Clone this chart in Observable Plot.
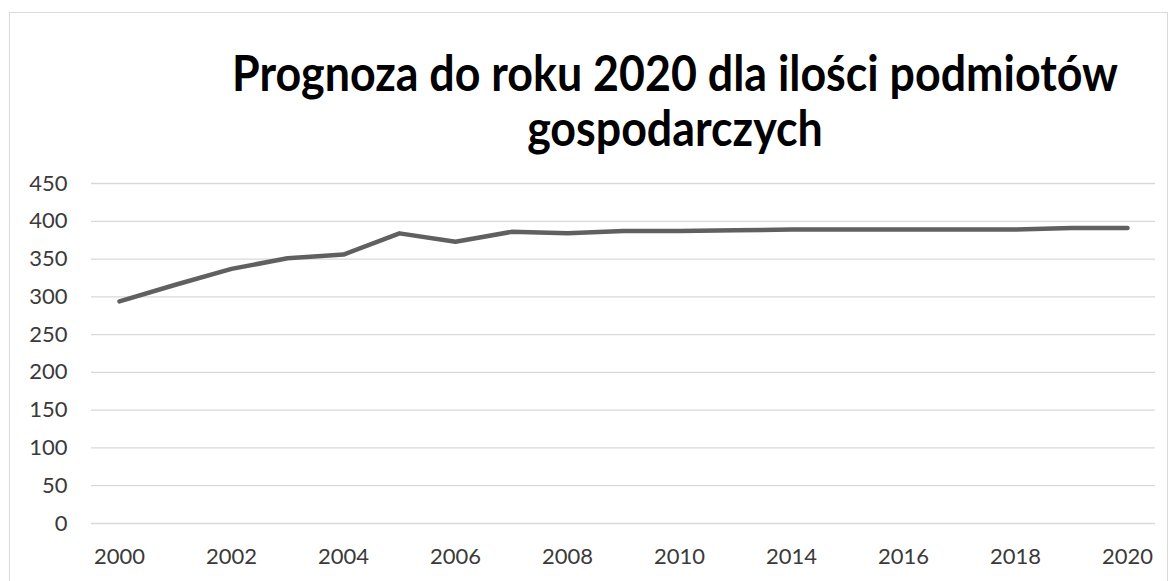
<!DOCTYPE html>
<html>
<head>
<meta charset="utf-8">
<script src="https://cdn.jsdelivr.net/npm/d3@7"></script>
<script src="https://cdn.jsdelivr.net/npm/@observablehq/plot@0.6"></script>
<style>
  html, body { margin: 0; padding: 0; background: #fff; width: 1171px; height: 581px; overflow: hidden; position: relative; }
  #frame { position: absolute; left: 9px; top: 12px; width: 1159px; height: 640px; border: 1.5px solid #d9d9d9; box-sizing: border-box; }
  #header { position: absolute; left: 0; top: 0; width: 1171px; height: 170px; }
  .title { position: absolute; left: 675px; transform-origin: 50% 88%; font-family: Lato, "Open Sans", sans-serif; font-weight: bold; color: #000; white-space: nowrap; line-height: 1; }
  #chart { position: absolute; left: 0; top: 170px; }
  #chart svg { overflow: visible; }
</style>
</head>
<body>
<div id="frame"></div>
<div id="header">
  <div id="t1" class="title"></div>
  <div id="t2" class="title"></div>
</div>
<div id="chart"></div>
<script>
const titleLines = ["Prognoza do roku 2020 dla ilości podmiotów", "gospodarczych"];
const years = ["2000","2001","2002","2003","2004","2005","2006","2007","2008","2009","2010","2013","2014","2015","2016","2017","2018","2019","2020"];
const values = [294, 316, 337, 351, 356, 384, 373, 386, 384, 387, 387, 388, 389, 389, 389, 389, 389, 391, 391];
const xTickLabels = ["2000","2002","2004","2006","2008","2010","2014","2016","2018","2020"];
const yTicks = [0, 50, 100, 150, 200, 250, 300, 350, 400, 450];

const data = years.map((y, i) => ({year: y, value: values[i]}));

// Title
const t1 = document.getElementById("t1");
const t2 = document.getElementById("t2");
t1.textContent = titleLines[0];
t2.textContent = titleLines[1];
let fs = 40;
t1.style.fontSize = fs + "px";
const w = t1.getBoundingClientRect().width;
fs = fs * 886 / w;
t1.style.fontSize = fs + "px";
t2.style.fontSize = fs + "px";
t1.style.top = (92 - 0.887 * fs) + "px";
t2.style.top = (147 - 0.887 * fs) + "px";
t1.style.transform = "translateX(-50%) scaleY(1.12)";
t2.style.transform = "translateX(-50%) scaleY(1.12)";

const chart = Plot.plot({
  width: 1171,
  height: 411,
  marginLeft: 91,
  marginRight: 16,
  marginTop: 13,
  marginBottom: 58,
  style: { fontFamily: "Lato, 'Open Sans', sans-serif", fontSize: "22px", color: "#404040", background: "transparent" },
  x: { type: "point", domain: years, padding: 0.5 },
  y: { domain: [0, 450] },
  marks: [
    Plot.gridY(yTicks, { stroke: "#d9d9d9", strokeOpacity: 1, strokeWidth: 1.3 }),
    Plot.axisY(yTicks, { tickSize: 0, tickPadding: 24, label: null, fill: "#3a3a3a", fontSize: 22 }),
    Plot.axisX(xTickLabels, { tickSize: 0, tickPadding: 25, label: null, fill: "#3a3a3a", fontSize: 22 }),
    Plot.line(data, { x: "year", y: "value", stroke: "#606060", strokeWidth: 4.5, strokeLinecap: "round", strokeLinejoin: "round" })
  ]
});
document.getElementById("chart").appendChild(chart);
</script>
</body>
</html>
